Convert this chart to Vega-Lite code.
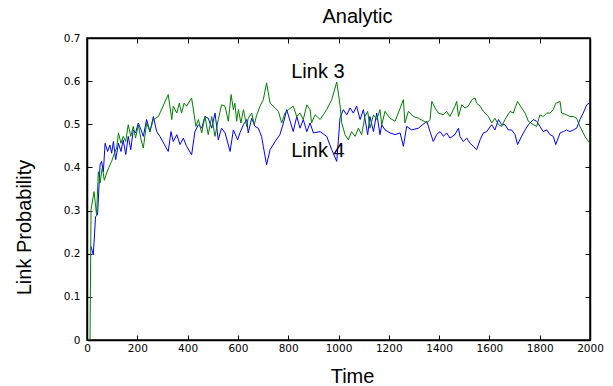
{
  "$schema": "https://vega.github.io/schema/vega-lite/v6.json",
  "width": 503,
  "height": 302,
  "autosize": {"type": "none"},
  "padding": {"left": 87, "top": 38, "right": 23, "bottom": 46},
  "background": "white",
  "title": {"text": "Analytic", "font": "Liberation Sans", "fontSize": 20, "fontWeight": "normal", "color": "black", "dx": 19, "offset": 6},
  "config": {
    "view": {"stroke": "black", "strokeWidth": 1.5},
    "axis": {
      "grid": false,
      "labelFont": "DejaVu Sans",
      "labelFontSize": 10.5,
      "labelColor": "black",
      "tickColor": "black",
      "tickWidth": 1,
      "domainColor": "black",
      "domainWidth": 1.5,
      "titleFont": "Liberation Sans",
      "titleFontSize": 20,
      "titleFontWeight": "normal",
      "titleColor": "black"
    }
  },
  "datasets": {
    "link3": [
      {"t":12,"p":0.0},{"t":16,"p":0.302},{"t":28,"p":0.344},{"t":38,"p":0.29},{"t":45,"p":0.39},{"t":52,"p":0.364},{"t":61,"p":0.40},{"t":69,"p":0.37},{"t":78,"p":0.387},{"t":87,"p":0.40},{"t":98,"p":0.414},{"t":109,"p":0.433},{"t":118,"p":0.445},{"t":125,"p":0.48},{"t":135,"p":0.456},{"t":144,"p":0.472},{"t":154,"p":0.46},{"t":164,"p":0.499},{"t":174,"p":0.472},{"t":184,"p":0.495},{"t":193,"p":0.468},{"t":204,"p":0.499},{"t":215,"p":0.464},
      {"t":224,"p":0.445},{"t":237,"p":0.503},{"t":250,"p":0.483},{"t":264,"p":0.511},{"t":284,"p":0.518},{"t":323,"p":0.569},{"t":337,"p":0.511},{"t":343,"p":0.542},{"t":357,"p":0.526},{"t":367,"p":0.549},{"t":376,"p":0.526},{"t":386,"p":0.549},{"t":396,"p":0.542},{"t":416,"p":0.561},{"t":433,"p":0.495},{"t":443,"p":0.511},{"t":456,"p":0.480},{"t":469,"p":0.518},{"t":482,"p":0.476},{"t":496,"p":0.518},{"t":509,"p":0.472},
      {"t":522,"p":0.511},{"t":535,"p":0.545},{"t":549,"p":0.542},{"t":562,"p":0.507},{"t":573,"p":0.569},{"t":582,"p":0.534},{"t":588,"p":0.549},{"t":595,"p":0.507},{"t":602,"p":0.534},{"t":612,"p":0.503},{"t":622,"p":0.534},{"t":635,"p":0.495},{"t":641,"p":0.514},{"t":655,"p":0.526},{"t":665,"p":0.499},{"t":675,"p":0.522},{"t":688,"p":0.542},{"t":701,"p":0.557},{"t":714,"p":0.596},{"t":728,"p":0.549},{"t":748,"p":0.538},{"t":761,"p":0.530},{"t":774,"p":0.503},{"t":787,"p":0.526},{"t":801,"p":0.534},
      {"t":820,"p":0.542},{"t":834,"p":0.518},{"t":847,"p":0.526},{"t":860,"p":0.511},{"t":874,"p":0.545},{"t":887,"p":0.534},{"t":893,"p":0.503},{"t":907,"p":0.522},{"t":927,"p":0.511},{"t":953,"p":0.534},{"t":973,"p":0.557},{"t":993,"p":0.598},{"t":1006,"p":0.545},{"t":1013,"p":0.503},{"t":1026,"p":0.476},{"t":1039,"p":0.464},{"t":1052,"p":0.483},{"t":1066,"p":0.472},{"t":1079,"p":0.491},{"t":1092,"p":0.476},{"t":1105,"p":0.518},
      {"t":1116,"p":0.530},{"t":1125,"p":0.491},{"t":1139,"p":0.522},{"t":1152,"p":0.511},{"t":1165,"p":0.534},{"t":1172,"p":0.499},{"t":1185,"p":0.530},{"t":1205,"p":0.514},{"t":1225,"p":0.507},{"t":1258,"p":0.557},{"t":1264,"p":0.503},{"t":1278,"p":0.530},{"t":1298,"p":0.518},{"t":1318,"p":0.514},{"t":1351,"p":0.503},{"t":1364,"p":0.511},{"t":1371,"p":0.553},{"t":1384,"p":0.538},{"t":1397,"p":0.526},
      {"t":1417,"p":0.522},{"t":1430,"p":0.530},{"t":1443,"p":0.518},{"t":1463,"p":0.542},{"t":1470,"p":0.553},{"t":1477,"p":0.518},{"t":1490,"p":0.545},{"t":1503,"p":0.538},{"t":1516,"p":0.542},{"t":1530,"p":0.557},{"t":1543,"p":0.561},{"t":1549,"p":0.549},{"t":1563,"p":0.542},{"t":1576,"p":0.530},{"t":1596,"p":0.518},{"t":1609,"p":0.503},{"t":1622,"p":0.514},{"t":1636,"p":0.499},{"t":1649,"p":0.495},{"t":1662,"p":0.511},{"t":1682,"p":0.530},{"t":1695,"p":0.526},
      {"t":1712,"p":0.553},{"t":1728,"p":0.538},{"t":1742,"p":0.526},{"t":1755,"p":0.507},{"t":1775,"p":0.499},{"t":1788,"p":0.495},{"t":1801,"p":0.522},{"t":1814,"p":0.518},{"t":1828,"p":0.526},{"t":1841,"p":0.526},{"t":1854,"p":0.534},{"t":1864,"p":0.549},{"t":1881,"p":0.553},{"t":1887,"p":0.526},{"t":1907,"p":0.522},{"t":1920,"p":0.518},{"t":1934,"p":0.518},{"t":1947,"p":0.514},{"t":1960,"p":0.495},{"t":1980,"p":0.472},{"t":1996,"p":0.458}
    ],
    "link4": [
      {"t":16,"p":0.217},{"t":25,"p":0.197},{"t":34,"p":0.286},{"t":42,"p":0.29},{"t":52,"p":0.406},{"t":58,"p":0.414},{"t":65,"p":0.39},{"t":72,"p":0.456},{"t":82,"p":0.437},{"t":91,"p":0.452},{"t":98,"p":0.433},{"t":105,"p":0.46},{"t":114,"p":0.418},{"t":125,"p":0.456},{"t":135,"p":0.437},{"t":144,"p":0.464},{"t":154,"p":0.43},{"t":164,"p":0.472},{"t":174,"p":0.441},{"t":184,"p":0.487},{"t":193,"p":0.48},{"t":204,"p":0.503},{"t":215,"p":0.487},
      {"t":224,"p":0.472},{"t":237,"p":0.511},{"t":250,"p":0.483},{"t":264,"p":0.518},{"t":277,"p":0.483},{"t":290,"p":0.472},{"t":323,"p":0.437},{"t":334,"p":0.483},{"t":343,"p":0.460},{"t":357,"p":0.476},{"t":370,"p":0.453},{"t":383,"p":0.468},{"t":396,"p":0.449},{"t":416,"p":0.429},{"t":429,"p":0.483},{"t":443,"p":0.499},{"t":456,"p":0.491},{"t":469,"p":0.518},{"t":482,"p":0.514},{"t":496,"p":0.491},{"t":509,"p":0.526},
      {"t":522,"p":0.464},{"t":535,"p":0.491},{"t":549,"p":0.480},{"t":569,"p":0.437},{"t":582,"p":0.487},{"t":599,"p":0.464},{"t":608,"p":0.480},{"t":622,"p":0.499},{"t":635,"p":0.511},{"t":641,"p":0.480},{"t":655,"p":0.514},{"t":668,"p":0.495},{"t":681,"p":0.491},{"t":694,"p":0.472},{"t":701,"p":0.449},{"t":714,"p":0.406},{"t":728,"p":0.441},{"t":748,"p":0.460},{"t":767,"p":0.476},{"t":781,"p":0.503},{"t":794,"p":0.534},
      {"t":820,"p":0.483},{"t":834,"p":0.518},{"t":847,"p":0.491},{"t":860,"p":0.511},{"t":874,"p":0.483},{"t":887,"p":0.503},{"t":900,"p":0.480},{"t":927,"p":0.483},{"t":953,"p":0.472},{"t":973,"p":0.441},{"t":993,"p":0.414},{"t":1006,"p":0.514},{"t":1019,"p":0.534},{"t":1033,"p":0.522},{"t":1046,"p":0.538},{"t":1059,"p":0.526},{"t":1072,"p":0.542},{"t":1086,"p":0.511},{"t":1099,"p":0.534},
      {"t":1116,"p":0.476},{"t":1125,"p":0.518},{"t":1139,"p":0.483},{"t":1152,"p":0.526},{"t":1165,"p":0.476},{"t":1172,"p":0.499},{"t":1185,"p":0.487},{"t":1205,"p":0.480},{"t":1225,"p":0.476},{"t":1245,"p":0.480},{"t":1258,"p":0.449},{"t":1271,"p":0.495},{"t":1291,"p":0.487},{"t":1318,"p":0.491},{"t":1351,"p":0.507},{"t":1364,"p":0.483},{"t":1377,"p":0.460},{"t":1390,"p":0.476},{"t":1404,"p":0.483},
      {"t":1417,"p":0.472},{"t":1430,"p":0.480},{"t":1443,"p":0.468},{"t":1463,"p":0.476},{"t":1477,"p":0.491},{"t":1483,"p":0.472},{"t":1496,"p":0.460},{"t":1510,"p":0.468},{"t":1523,"p":0.456},{"t":1536,"p":0.449},{"t":1549,"p":0.441},{"t":1563,"p":0.464},{"t":1576,"p":0.480},{"t":1589,"p":0.483},{"t":1609,"p":0.499},{"t":1622,"p":0.487},{"t":1636,"p":0.511},{"t":1649,"p":0.499},{"t":1662,"p":0.499},{"t":1675,"p":0.487},{"t":1688,"p":0.487},{"t":1702,"p":0.476},
      {"t":1712,"p":0.453},{"t":1728,"p":0.472},{"t":1742,"p":0.487},{"t":1755,"p":0.499},{"t":1775,"p":0.511},{"t":1788,"p":0.507},{"t":1801,"p":0.495},{"t":1814,"p":0.483},{"t":1828,"p":0.487},{"t":1841,"p":0.476},{"t":1854,"p":0.472},{"t":1864,"p":0.453},{"t":1881,"p":0.480},{"t":1894,"p":0.483},{"t":1907,"p":0.487},{"t":1920,"p":0.483},{"t":1934,"p":0.487},{"t":1947,"p":0.491},{"t":1960,"p":0.511},{"t":1973,"p":0.526},{"t":1987,"p":0.545},{"t":1996,"p":0.549}
    ],
    "labels": [
      {"t":918,"p":0.622,"label":"Link 3"},
      {"t":918,"p":0.438,"label":"Link 4"}
    ]
  },
  "layer": [
    {
      "data": {"name": "link4"},
      "mark": {"type": "line", "color": "#0000ff", "strokeWidth": 1},
      "encoding": {
        "x": {"field": "t", "type": "quantitative", "scale": {"domain": [0, 2000], "nice": false},
          "axis": {"orient": "bottom", "values": [0,200,400,600,800,1000,1200,1400,1600,1800,2000], "format": "d", "tickSize": -5, "labelPadding": 8, "labelFlush": false,
            "title": "Time", "titleX": 265, "titleY": 42, "titleBaseline": "alphabetic", "titleAlign": "center"}},
        "y": {"field": "p", "type": "quantitative", "scale": {"domain": [0, 0.7], "nice": false},
          "axis": {"orient": "left", "values": [0,0.1,0.2,0.3,0.4,0.5,0.6,0.7], "format": ".1~f", "tickSize": -5, "labelPadding": 12, "labelFlush": false,
            "title": "Link Probability", "titleX": -57, "titleY": 189, "titleAngle": 270, "titleBaseline": "alphabetic", "titleAlign": "center"}}
      }
    },
    {
      "data": {"name": "link3"},
      "mark": {"type": "line", "color": "#008000", "strokeWidth": 1},
      "encoding": {
        "x": {"field": "t", "type": "quantitative", "axis": null},
        "y": {"field": "p", "type": "quantitative", "axis": null}
      }
    },
    {
      "data": {"name": "labels"},
      "mark": {"type": "text", "font": "Liberation Sans", "fontSize": 20, "color": "black", "align": "center", "baseline": "middle"},
      "encoding": {
        "x": {"field": "t", "type": "quantitative",
          "axis": {"orient": "top", "values": [0,200,400,600,800,1000,1200,1400,1600,1800,2000], "labels": false, "tickSize": -5, "title": null}},
        "y": {"field": "p", "type": "quantitative",
          "axis": {"orient": "right", "values": [0,0.1,0.2,0.3,0.4,0.5,0.6,0.7], "labels": false, "tickSize": -5, "title": null}},
        "text": {"field": "label"}
      }
    }
  ],
  "resolve": {"axis": {"x": "independent", "y": "independent"}}
}
